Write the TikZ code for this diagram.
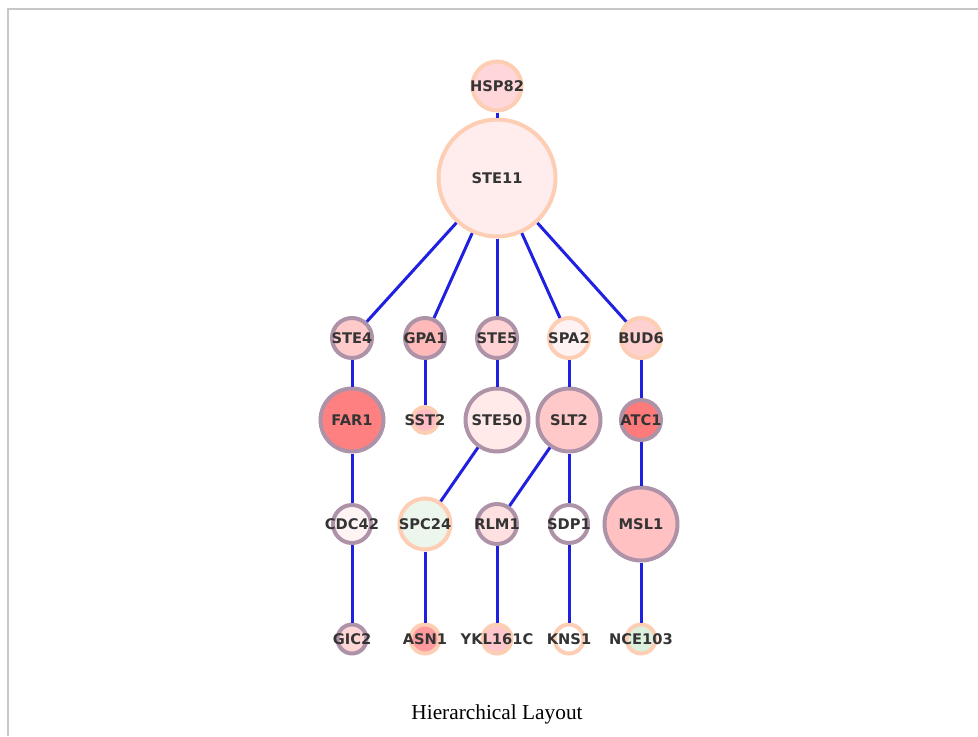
\documentclass[tikz,border=0pt]{standalone}
\usepackage{fontspec}
\setmainfont{Liberation Serif}
\newfontfamily\genefont{DejaVu Sans}

% ring, link and label colours
\definecolor{peachring}{RGB}{253,206,180}
\definecolor{mauvering}{RGB}{174,146,168}
\definecolor{edgeblue}{RGB}{32,32,224}
\definecolor{genetext}{RGB}{52,52,52}
\definecolor{framegray}{RGB}{200,200,200}

\begin{document}
\begin{tikzpicture}[
    x=0.75pt, y=-0.75pt,
    gene/.style={circle, line width=3pt, inner sep=0pt},
    pale/.style={gene, draw=peachring},
    dark/.style={gene, draw=mauvering},
    glbl/.style={font=\genefont\bfseries\fontsize{11}{11}\selectfont, text=genetext, inner sep=0pt},
    link/.style={draw=edgeblue, line width=2.25pt},
  ]
  \useasboundingbox (0,0) rectangle (978,736);
  \draw[framegray, line width=1.1pt] (8,736) -- (8,9) -- (978,9);

  % top of the hierarchy
  \node[pale, fill={rgb,255:red,255;green,214;blue,218}, minimum size=36.75pt, label={[glbl]center:HSP82}] (HSP82) at (497,86) {};
  \node[pale, fill={rgb,255:red,255;green,236;blue,236}, minimum size=87.75pt, label={[glbl]center:STE11}] (STE11) at (497,178) {};

  % second level
  \node[dark, fill={rgb,255:red,255;green,202;blue,202}, minimum size=30pt, label={[glbl]center:STE4}] (STE4) at (352,338) {};
  \node[dark, fill={rgb,255:red,255;green,185;blue,185}, minimum size=30pt, label={[glbl]center:GPA1}] (GPA1) at (425,338) {};
  \node[dark, fill={rgb,255:red,255;green,211;blue,211}, minimum size=30pt, label={[glbl]center:STE5}] (STE5) at (497,338) {};
  \node[pale, fill={rgb,255:red,255;green,242;blue,242}, minimum size=30pt, label={[glbl]center:SPA2}] (SPA2) at (569,338) {};
  \node[pale, fill={rgb,255:red,255;green,208;blue,208}, minimum size=30pt, label={[glbl]center:BUD6}] (BUD6) at (641,338) {};

  % third level
  \node[dark, fill={rgb,255:red,255;green,128;blue,128}, minimum size=47.25pt, label={[glbl]center:FAR1}] (FAR1) at (352,420) {};
  \node[pale, fill={rgb,255:red,255;green,188;blue,196}, minimum size=19.5pt, label={[glbl]center:SST2}] (SST2) at (425,420) {};
  \node[dark, fill={rgb,255:red,255;green,233;blue,233}, minimum size=47.25pt, label={[glbl]center:STE50}] (STE50) at (497,420) {};
  \node[dark, fill={rgb,255:red,255;green,201;blue,201}, minimum size=47.25pt, label={[glbl]center:SLT2}] (SLT2) at (569,420) {};
  \node[dark, fill={rgb,255:red,255;green,122;blue,122}, minimum size=30pt, label={[glbl]center:ATC1}] (ATC1) at (641,420) {};

  % fourth level
  \node[dark, fill={rgb,255:red,255;green,244;blue,244}, minimum size=28.5pt, label={[glbl]center:CDC42}] (CDC42) at (352,524) {};
  \node[pale, fill={rgb,255:red,237;green,246;blue,236}, minimum size=38.25pt, label={[glbl]center:SPC24}] (SPC24) at (425,524) {};
  \node[dark, fill={rgb,255:red,255;green,224;blue,224}, minimum size=30pt, label={[glbl]center:RLM1}] (RLM1) at (497,524) {};
  \node[dark, fill=white, minimum size=28.5pt, label={[glbl]center:SDP1}] (SDP1) at (569,524) {};
  \node[dark, fill={rgb,255:red,255;green,193;blue,193}, minimum size=54.75pt, label={[glbl]center:MSL1}] (MSL1) at (641,524) {};

  % leaves
  \node[dark, fill={rgb,255:red,255;green,214;blue,214}, minimum size=21.75pt, label={[glbl]center:GIC2}] (GIC2) at (352,639) {};
  \node[pale, fill={rgb,255:red,255;green,154;blue,158}, minimum size=21.75pt, label={[glbl]center:ASN1}] (ASN1) at (425,639) {};
  \node[pale, fill={rgb,255:red,255;green,198;blue,204}, minimum size=21.75pt, label={[glbl]center:YKL161C}] (YKL161C) at (497,639) {};
  \node[pale, fill=white, minimum size=21.75pt, label={[glbl]center:KNS1}] (KNS1) at (569,639) {};
  \node[pale, fill={rgb,255:red,221;green,240;blue,221}, minimum size=21.75pt, label={[glbl]center:NCE103}] (NCE103) at (641,639) {};

  % links
  \draw[link] (HSP82) -- (STE11);
  \foreach \g in {STE4,GPA1,STE5,SPA2,BUD6}
    \draw[link] (STE11) -- (\g);
  \draw[link] (STE4) -- (FAR1);
  \draw[link] (GPA1) -- (SST2);
  \draw[link] (STE5) -- (STE50);
  \draw[link] (SPA2) -- (SLT2);
  \draw[link] (BUD6) -- (ATC1);
  \draw[link] (FAR1) -- (CDC42);
  \draw[link] (STE50) -- (SPC24);
  \draw[link] (SLT2) -- (RLM1);
  \draw[link] (SLT2) -- (SDP1);
  \draw[link] (ATC1) -- (MSL1);
  \draw[link] (CDC42) -- (GIC2);
  \draw[link] (SPC24) -- (ASN1);
  \draw[link] (RLM1) -- (YKL161C);
  \draw[link] (SDP1) -- (KNS1);
  \draw[link] (MSL1) -- (NCE103);

  \node[font=\fontsize{16}{16}\selectfont] (caption) at (497,714) {Hierarchical Layout};
\end{tikzpicture}
\end{document}
